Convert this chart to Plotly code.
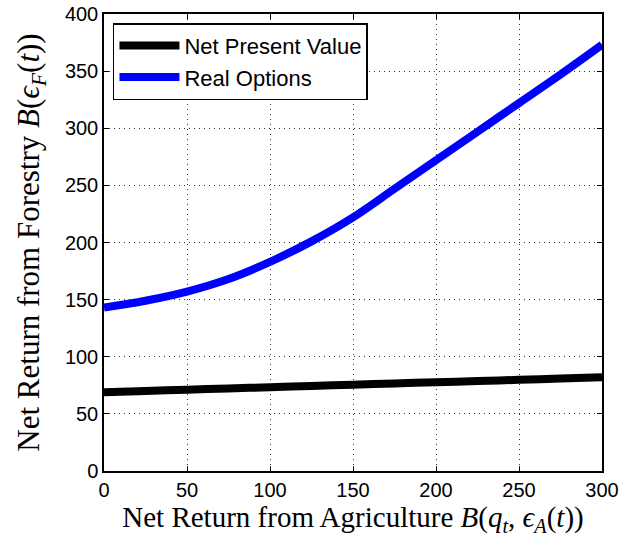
import plotly.graph_objects as go

x_vals = [0, 25, 50, 75, 100, 125, 150, 175, 200, 225, 250, 275, 300]
npv_vals = [69, 70.1, 71.2, 72.3, 73.3, 74.4, 75.5, 76.6, 77.7, 78.7, 79.8, 80.9, 82]
ro_vals = [143, 149, 157, 168, 183, 201, 222, 247, 272, 297, 322, 347, 373]

x_ticks = [0, 50, 100, 150, 200, 250, 300]
y_ticks = [0, 50, 100, 150, 200, 250, 300, 350, 400]

fig = go.Figure()
fig.add_trace(go.Scatter(x=x_vals, y=npv_vals, mode="lines", name="Net Present Value",
                         line=dict(color="black", width=8, shape="spline")))
fig.add_trace(go.Scatter(x=x_vals, y=ro_vals, mode="lines", name="Real Options",
                         line=dict(color="#0000ff", width=8, shape="spline")))

axis_common = dict(
    showline=True, linecolor="black", linewidth=1.5, mirror="ticks",
    ticks="inside", ticklen=5, tickcolor="black",
    showgrid=True, gridcolor="#333", gridwidth=1, griddash="1px,4px",
    zeroline=False, automargin=False,
    tickfont=dict(family="Liberation Sans, Arial", size=20, color="black"),
)

fig.update_xaxes(range=[0, 300], tickvals=x_ticks, **axis_common,
                 title=dict(text="Net Return from Agriculture <i>B</i>(<i>q</i><sub><i>t</i></sub>, <i>ϵ</i><sub><i>A</i></sub>(<i>t</i>))",
                            font=dict(family="Liberation Serif, serif", size=29, color="black"), standoff=4))
fig.update_yaxes(range=[0, 400], tickvals=y_ticks, **axis_common,
                 title=dict(text="Net Return from Forestry <i>B</i>(<i>ϵ</i><sub><i>F</i></sub>(<i>t</i>))",
                            font=dict(family="Liberation Serif, serif", size=31, color="black"), standoff=16))

fig.update_layout(
    width=633, height=540,
    margin=dict(l=104, r=31, t=14, b=69),
    paper_bgcolor="white", plot_bgcolor="white",
    legend=dict(x=0.018, y=0.98, xanchor="left", yanchor="top",
                bordercolor="black", borderwidth=1.5, bgcolor="white",
                font=dict(family="Liberation Sans, Arial", size=22, color="black"),
                itemwidth=60, tracegroupgap=2),
)

fig.write_html("out.html", config={"displayModeBar": False},
               post_script="document.body.style.margin='0';")
